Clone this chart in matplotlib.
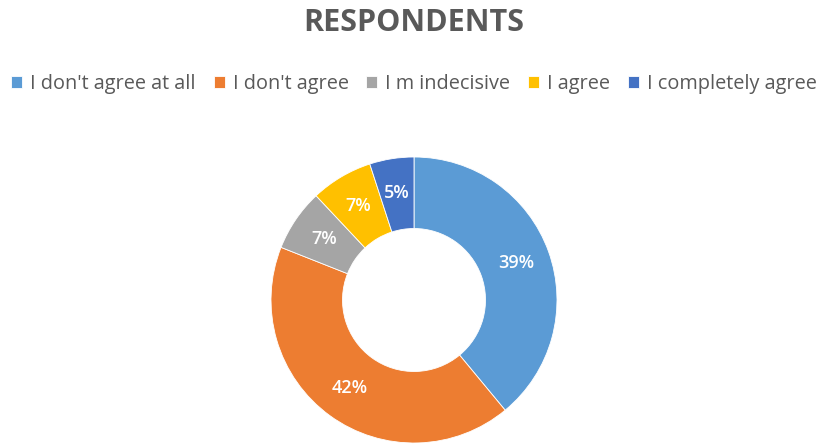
import matplotlib.pyplot as plt

labels = ["I don't agree at all", "I don't agree", "I m indecisive", "I agree", "I completely agree"]
values = [39, 42, 7, 7, 5]
colors = ['#5B9BD5', '#ED7D31', '#A5A5A5', '#FFC000', '#4472C4']

plt.rcParams['font.family'] = ['Open Sans', 'DejaVu Sans']

fig = plt.figure(figsize=(8.28, 4.45), dpi=100)
# donut centre at about (414, 300) px, outer radius about 143 px
ax = fig.add_axes([0.5 - 143 / 828, (445 - 300 - 143) / 445, 286 / 828, 286 / 445])

wedges, texts, autotexts = ax.pie(
    values, colors=colors, startangle=90, counterclock=False,
    radius=1.0, autopct='%1.0f%%', pctdistance=0.76,
    wedgeprops=dict(width=0.5, edgecolor='white', linewidth=0.6),
    textprops=dict(color='white', fontsize=13, fontweight='semibold'))
ax.set_aspect('equal')
ax.set_xlim(-1.0, 1.0)
ax.set_ylim(-1.0, 1.0)

fig.text(0.5, 1 - 23 / 445, 'RESPONDENTS', ha='center', va='center',
         fontsize=22, fontweight='bold', color='#595959')

fig.legend(wedges, labels, loc='center', bbox_to_anchor=(0.5, 1 - 84 / 445),
           ncol=5, frameon=False, fontsize=14.3, handlelength=0.55, handleheight=0.55,
           handletextpad=0.4, columnspacing=0.9, labelcolor='#595959',
           borderaxespad=0, borderpad=0)

fig.savefig('out.png', dpi=100)
